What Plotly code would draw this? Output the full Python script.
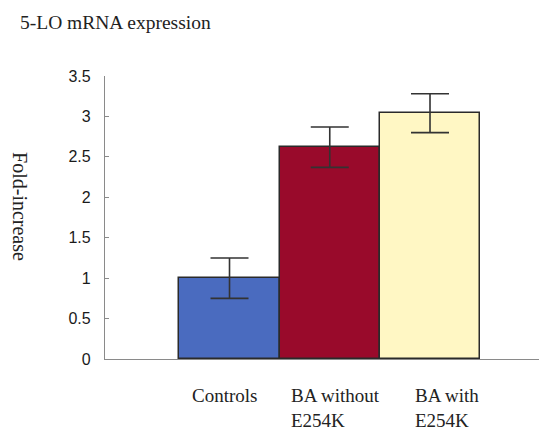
import plotly.graph_objects as go

categories = ["Controls", "BA without<br>E254K", "BA with<br>E254K"]
values = [1.0, 2.62, 3.04]
errors = [0.25, 0.25, 0.24]
colors = ["#4a6bbf", "#990a2b", "#fff7c4"]
y_ticks = [0, 0.5, 1, 1.5, 2, 2.5, 3, 3.5]
y_ticktext = ["0", "0.5", "1", "1.5", "2", "2.5", "3", "3.5"]
label_offsets = [-0.39, -0.41, -0.17]

xs = list(range(len(categories)))

fig = go.Figure()
fig.add_trace(go.Bar(
    x=xs, y=values, width=1.0,
    marker=dict(color=colors, line=dict(color="#2a2a2a", width=1.5)),
    error_y=dict(type="data", array=errors, visible=True,
                 color="#333333", thickness=1.6, width=19),
    showlegend=False,
))

for i, lab in enumerate(categories):
    fig.add_annotation(
        x=i + label_offsets[i], xref="x", y=-0.085, yref="paper",
        text=lab, showarrow=False, xanchor="left", yanchor="top", align="left",
        font=dict(family="Liberation Serif", size=19, color="#222"),
    )

fig.add_annotation(
    x=-0.197, xref="paper", y=1.19, yref="paper",
    text="5-LO mRNA expression", showarrow=False, xanchor="left", yanchor="middle",
    font=dict(family="Liberation Serif", size=19.5, color="#222"),
)
fig.add_annotation(
    x=-0.192, xref="paper", y=0.54, yref="paper",
    text="Fold-increase", showarrow=False, textangle=90,
    xanchor="center", yanchor="middle",
    font=dict(family="Liberation Serif", size=20, color="#222"),
)

fig.update_layout(
    width=539, height=423,
    margin=dict(l=97, r=0, t=68, b=72),
    paper_bgcolor="white", plot_bgcolor="white",
    bargap=0,
    xaxis=dict(range=[-1.242, 3.167], showticklabels=False, ticks="",
               showgrid=False, zeroline=False, showline=True,
               linecolor="#8a8a8a", linewidth=1.2, fixedrange=True),
    yaxis=dict(range=[0, 3.5], tickvals=y_ticks, ticktext=y_ticktext,
               ticks="inside", ticklen=4, tickcolor="#8a8a8a",
               ticklabelstandoff=10,
               showgrid=False, zeroline=False, showline=True,
               linecolor="#8a8a8a", linewidth=1.2,
               tickfont=dict(family="Liberation Sans", size=16, color="#1a1a1a")),
)

fig.write_html("out.html")
